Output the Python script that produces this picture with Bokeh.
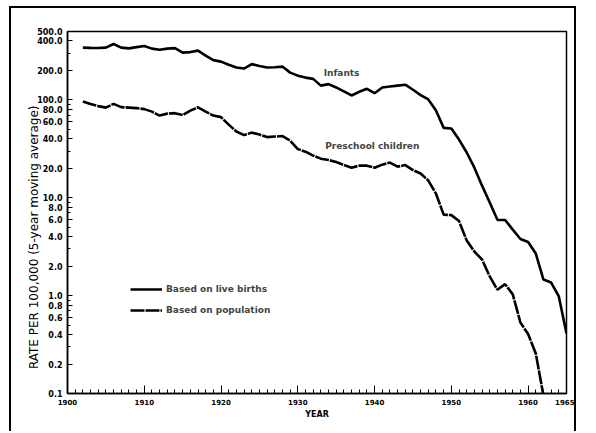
from bokeh.plotting import figure
from bokeh.models import (FixedTicker, Label, Legend, LegendItem,
                          PrintfTickFormatter, Range1d)
from bokeh.embed import file_html
from bokeh.resources import INLINE

# ---- data ----
infant_years = list(range(1902, 1966))
infants = [342, 340, 339, 342, 373, 342, 336, 346, 356, 334,
           326, 334, 338, 304, 308, 319, 284, 255, 246, 229,
           214, 209, 232, 222, 214, 216, 219, 190, 177, 169,
           164, 140, 145, 134, 122, 111, 121, 130, 117, 134,
           137, 140, 143, 127, 112, 101, 77.8, 51.8, 51.0, 39.3,
           29.0, 20.3, 13.3, 8.93, 5.95, 5.92, 4.73, 3.79, 3.53, 2.69,
           1.46, 1.36, 0.98, 0.41]

preschool_years = list(range(1902, 1963))
preschool = [96.1, 90.6, 86.4, 83.4, 91.0, 84.4, 83.4, 82.4, 80.5, 75.9,
             69.2, 72.4, 73.2, 70.0, 77.8, 84.0, 75.9, 69.2, 66.7, 55.9,
             47.5, 43.7, 46.3, 44.2, 41.7, 42.2, 42.7, 38.4, 31.4, 29.6,
             27.0, 25.1, 24.3, 23.2, 21.6, 20.3, 21.3, 21.3, 20.3, 21.8,
             22.9, 20.8, 21.6, 19.2, 17.7, 15.0, 11.0, 6.73, 6.65, 5.78,
             3.66, 2.82, 2.34, 1.57, 1.15, 1.31, 1.03, 0.53, 0.405, 0.256,
             0.095]

x_major_ticks = [1900, 1910, 1920, 1930, 1940, 1950, 1960, 1965]
x_minor_ticks = list(range(1900, 1966))
y_major_ticks = [0.1, 0.2, 0.4, 0.6, 0.8, 1, 2, 4, 6, 8, 10, 20, 40, 60, 80,
                 100, 200, 400, 500]
y_minor_ticks = [0.3, 0.5, 0.7, 0.9, 3, 5, 7, 9, 30, 50, 70, 90, 300]

FONT = "DejaVu Sans"
NB = "\u00a0"

p = figure(width=567, height=425, output_backend="svg", toolbar_location=None,
           x_range=Range1d(1900, 1965), y_range=Range1d(0.1, 500),
           y_axis_type="log",
           min_border_left=56, min_border_right=12,
           min_border_top=23, min_border_bottom=40)
p.styles = {"border-left": "2px solid black", "border-top": "2px solid black",
            "border-right": "2px solid black",
            "margin-left": "9px", "margin-top": "6px"}
p.xgrid.visible = False
p.ygrid.visible = False
p.outline_line_color = "black"
p.outline_line_width = 1.5

r1 = p.line(infant_years, infants, line_color="black", line_width=2.6)
r2 = p.line(preschool_years, preschool, line_color="black", line_width=2.6,
            line_dash="14 1")

# x axis
xa = p.xaxis[0]
xa.ticker = FixedTicker(ticks=x_major_ticks, minor_ticks=x_minor_ticks)
xa.major_tick_in = 8
xa.major_tick_out = 0
xa.minor_tick_in = 4
xa.minor_tick_out = 0
xa.axis_line_width = 1.5
xa.major_label_text_font = FONT
xa.major_label_text_font_style = "bold"
xa.major_label_text_font_size = "7px"
xa.major_label_text_color = "black"
xa.major_label_standoff = 5
xa.axis_label = "YEAR"
xa.axis_label_text_font = FONT
xa.axis_label_text_font_style = "bold"
xa.axis_label_text_font_size = "8px"
xa.axis_label_text_color = "black"
xa.axis_label_standoff = 2

# y axis
ya = p.yaxis[0]
ya.ticker = FixedTicker(ticks=y_major_ticks, minor_ticks=y_minor_ticks)
ya.formatter = PrintfTickFormatter(format="%.1f")
ya.major_tick_in = 5
ya.major_tick_out = 0
ya.minor_tick_in = 3
ya.minor_tick_out = 0
ya.axis_line_width = 1.5
ya.major_label_text_font = FONT
ya.major_label_text_font_style = "bold"
ya.major_label_text_font_size = "8px"
ya.major_label_text_color = "black"
ya.major_label_standoff = 5
ya.axis_label = "RATE  PER  100,000  (5-year moving average)" + NB * 10
ya.axis_label_text_font = FONT
ya.axis_label_text_font_style = "normal"
ya.axis_label_text_font_size = "12px"
ya.axis_label_text_color = "black"
ya.axis_label_standoff = -7

# curve labels
p.add_layout(Label(x=1935.7, y=190, text="Infants", text_align="center",
                   text_baseline="middle", text_font=FONT,
                   text_font_style="bold", text_font_size="9px"))
p.add_layout(Label(x=1939.7, y=34, text="Preschool children",
                   text_align="center", text_baseline="middle",
                   text_font=FONT, text_font_style="bold",
                   text_font_size="9px"))

legend = Legend(items=[LegendItem(label="Based on live births", renderers=[r1]),
                       LegendItem(label="Based on population", renderers=[r2])],
                location=(63, 77), padding=0, margin=0,
                border_line_color=None, background_fill_alpha=0,
                glyph_width=32, glyph_height=12, label_height=12,
                spacing=9, label_standoff=4,
                label_text_font=FONT, label_text_font_style="bold",
                label_text_font_size="9px")
p.add_layout(legend)

open("out.html", "w").write(file_html(p, INLINE))
